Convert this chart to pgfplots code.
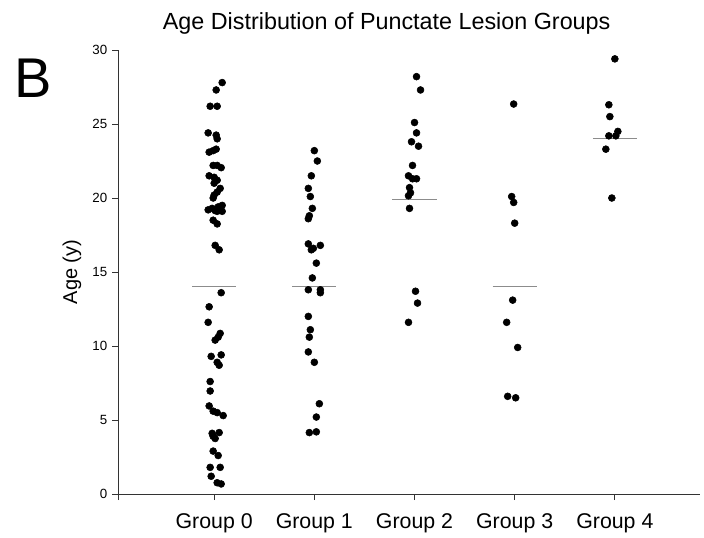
\documentclass[border=0pt]{standalone}
\usepackage{fontspec}
\setmainfont{Liberation Sans}
\usepackage{pgfplots}
\pgfplotsset{compat=1.18}
\pgfplotstableread{
x y
1.08 27.8
1.02 27.3
0.96 26.2
1.03 26.2
0.94 24.4
1.02 24.25
1.03 24.0
0.95 23.1
0.99 23.2
1.02 23.3
0.99 22.2
1.03 22.2
1.07 22.05
0.95 21.5
1.00 21.4
1.03 21.2
1.00 21.0
1.06 20.65
1.03 20.4
1.00 20.2
0.99 20.0
0.94 19.2
0.98 19.3
1.01 19.15
1.04 19.4
1.08 19.5
1.08 19.1
1.03 19.1
0.99 18.5
1.03 18.25
1.01 16.8
1.05 16.5
1.07 13.6
0.95 12.65
0.94 11.6
1.06 10.85
1.04 10.6
1.01 10.4
0.97 9.3
1.07 9.4
1.03 8.9
1.05 8.7
0.96 7.6
0.96 6.96
0.95 5.95
0.99 5.6
1.03 5.5
1.09 5.3
0.98 4.1
1.05 4.15
1.01 3.75
0.99 3.9
0.99 2.9
1.04 2.6
0.96 1.8
1.06 1.8
0.97 1.2
1.03 0.76
1.07 0.68
}\groupA
\pgfplotstableread{
x y
2.00 23.2
2.03 22.5
1.97 21.5
1.94 20.65
1.96 20.1
1.98 19.3
1.95 18.8
1.94 18.6
1.94 16.9
1.97 16.5
1.99 16.6
2.06 16.8
2.02 15.6
1.98 14.6
1.94 13.8
2.06 13.8
2.06 13.6
1.94 12.0
1.96 11.1
1.95 10.6
1.94 9.6
2.00 8.9
2.05 6.1
2.02 5.2
1.95 4.15
2.02 4.2
}\groupB
\pgfplotstableread{
x y
3.02 28.2
3.06 27.3
3.00 25.1
3.02 24.4
2.97 23.8
3.04 23.5
2.98 22.2
2.94 21.5
2.98 21.3
3.02 21.3
2.95 20.7
2.96 20.35
2.94 20.15
2.95 19.3
3.01 13.7
3.03 12.9
2.94 11.6
}\groupC
\pgfplotstableread{
x y
3.99 26.35
3.97 20.1
3.99 19.7
4.00 18.3
3.98 13.1
3.92 11.6
4.03 9.9
3.93 6.6
4.01 6.5
}\groupD
\pgfplotstableread{
x y
5.00 29.4
4.94 26.3
4.95 25.5
5.03 24.5
4.94 24.2
5.01 24.2
4.91 23.3
4.97 20.0
}\groupE
\begin{document}
\begin{tikzpicture}
\useasboundingbox (0,0) rectangle (528pt,402.75pt);
\begin{axis}[
  at={(88.5pt,32.25pt)}, anchor=south west,
  scale only axis, width=436.5pt, height=333pt,
  xmin=0.04, xmax=5.85, ymin=0, ymax=30,
  axis x line*=bottom, axis y line*=left,
  axis line style={black!80, line width=0.75pt},
  every tick/.style={black!80, line width=0.75pt},
  tick align=outside, major tick length=4.5pt,
  xtick={0.04,1,2,3,4,5},
  xticklabels={,Group 0,Group 1,Group 2,Group 3,Group 4},
  ytick={0,5,10,15,20,25,30},
  xticklabel style={font=\fontsize{16}{18}\selectfont, yshift=-7pt},
  yticklabel style={font=\fontsize{10}{12}\selectfont},
  /pgf/number format/assume math mode=true,
  clip=false,
]
\addplot[black!45, line width=0.75pt] coordinates {(0.78,14) (1.22,14)};
\addplot[black!45, line width=0.75pt] coordinates {(1.78,14) (2.22,14)};
\addplot[black!45, line width=0.75pt] coordinates {(2.78,19.9) (3.22,19.9)};
\addplot[black!45, line width=0.75pt] coordinates {(3.78,14) (4.22,14)};
\addplot[black!45, line width=0.75pt] coordinates {(4.78,24) (5.22,24)};
\addplot[only marks, mark=*, mark size=2.6pt, black] table[x=x,y=y] {\groupA};
\addplot[only marks, mark=*, mark size=2.6pt, black] table[x=x,y=y] {\groupB};
\addplot[only marks, mark=*, mark size=2.6pt, black] table[x=x,y=y] {\groupC};
\addplot[only marks, mark=*, mark size=2.6pt, black] table[x=x,y=y] {\groupD};
\addplot[only marks, mark=*, mark size=2.6pt, black] table[x=x,y=y] {\groupE};
\end{axis}
\node[anchor=base, inner sep=0pt, font=\fontsize{17.5}{20}\selectfont] at (290pt,380.6pt) {Age Distribution of Punctate Lesion Groups};
\node[anchor=base west, inner sep=0pt, font=\fontsize{42}{48}\selectfont] at (11pt,330pt) {B};
\node[rotate=90, inner sep=0pt, font=\fontsize{15}{18}\selectfont] at (54pt,198.75pt) {Age (y)};
\end{tikzpicture}
\end{document}
